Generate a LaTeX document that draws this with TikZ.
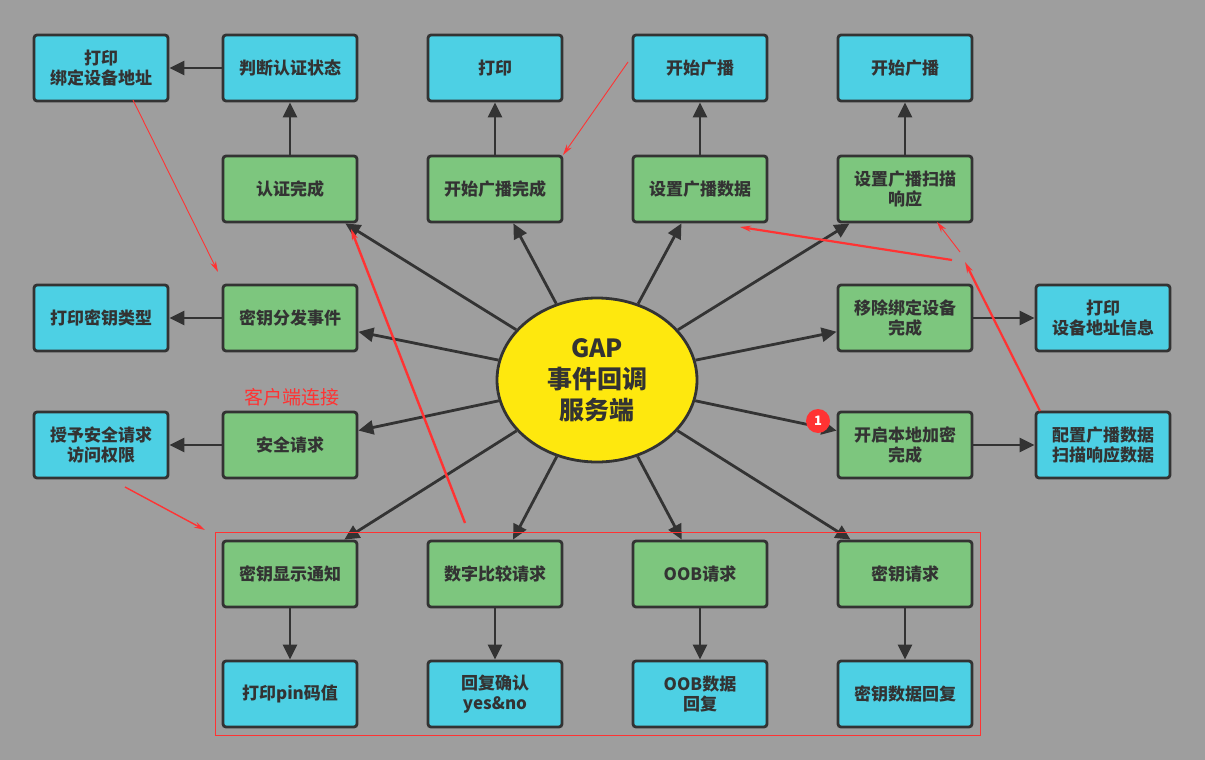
\documentclass[tikz,border=0pt]{standalone}
\usepackage{fontspec}
\setmainfont{Noto Sans CJK SC}
\usetikzlibrary{arrows.meta,shapes.geometric}
\definecolor{bg}{HTML}{9E9E9E}
\definecolor{gr}{HTML}{7DC67E}
\definecolor{cy}{HTML}{4DD0E4}
\definecolor{ln}{HTML}{333333}
\definecolor{rd}{HTML}{FF3333}
\begin{document}
\begin{tikzpicture}[x=1pt,y=-1pt,
 bx/.style={draw=ln,line width=2.8pt,rounded corners=3pt,minimum width=134pt,minimum height=66pt,align=center,font=\fontsize{17}{20}\selectfont\bfseries,text=ln},
 gbox/.style={bx,fill=gr},
 cbox/.style={bx,fill=cy},
 ar/.style={draw=ln,line width=2.8pt,-{Triangle[length=15pt,width=14pt]}},
 ra/.style={draw=rd,line width=0.9pt,-{Stealth[length=11pt,width=6pt]}}]
\useasboundingbox[fill=bg] (0,0) rectangle (1205,760);
\node[cbox] (p1) at (101,68) {打印\\绑定设备地址};
\node[cbox] (pd) at (290,68) {判断认证状态};
\node[cbox] (pr) at (495,68) {打印};
\node[cbox] (ka) at (700,68) {开始广播};
\node[cbox] (kb) at (905,68) {开始广播};
\node[gbox] (rz) at (290,189) {认证完成};
\node[gbox] (gbw) at (495,189) {开始广播完成};
\node[gbox] (szd) at (700,189) {设置广播数据};
\node[gbox] (szs) at (905,189) {设置广播扫描\\响应};
\node[cbox] (dmy) at (101,318) {打印密钥类型};
\node[gbox] (myf) at (290,318) {密钥分发事件};
\node[gbox] (ycb) at (905,318) {移除绑定设备\\完成};
\node[cbox] (dsb) at (1103,318) {打印\\设备地址信息};
\node[cbox] (sy) at (101,445) {授予安全请求\\访问权限};
\node[gbox] (aq) at (290,445) {安全请求};
\node[gbox] (kq) at (905,445) {开启本地加密\\完成};
\node[cbox] (pz) at (1103,445) {配置广播数据\\扫描响应数据};
\node[gbox] (xs) at (290,574) {密钥显示通知};
\node[gbox] (sz) at (495,574) {数字比较请求};
\node[gbox] (oob) at (700,574) {OOB请求};
\node[gbox] (mq) at (905,574) {密钥请求};
\node[cbox] (pin) at (290,694) {打印pin码值};
\node[cbox] (hf) at (495,694) {回复确认\\yes\&no};
\node[cbox] (od) at (700,694) {OOB数据\\回复};
\node[cbox] (mh) at (905,694) {密钥数据回复};
\node[ellipse,draw=ln,line width=2.8pt,fill=yellow!90!orange!95,minimum width=200pt,minimum height=164pt,align=center,font=\fontsize{25}{31}\selectfont\bfseries,text=ln] (e) at (597,380) {GAP\\事件回调\\服务端};
\foreach \n in {rz,gbw,szd,szs,myf,ycb,aq,kq,xs,sz,oob,mq} \draw[ar] (e) -- (\n);
\draw[ar] (pd) -- (p1); \draw[ar] (rz) -- (pd); \draw[ar] (gbw) -- (pr);
\draw[ar] (szd) -- (ka); \draw[ar] (szs) -- (kb); \draw[ar] (myf) -- (dmy);
\draw[ar] (ycb) -- (dsb); \draw[ar] (aq) -- (sy); \draw[ar] (kq) -- (pz);
\draw[ar] (xs) -- (pin); \draw[ar] (sz) -- (hf); \draw[ar] (oob) -- (od); \draw[ar] (mq) -- (mh);
% annotations
\draw[rd,line width=0.8pt] (215,532) rectangle (980,735);
\coordinate (r1a) at (133,100); \coordinate (r1b) at (218,272);
\coordinate (r2a) at (628,62); \coordinate (r2b) at (563,155);
\coordinate (r3a) at (465,523); \coordinate (r3b) at (351,229);
\coordinate (r4a) at (125,487); \coordinate (r4b) at (205,530);
\coordinate (r5a) at (952,260); \coordinate (r5b) at (740,227);
\coordinate (r6a) at (1040,411); \coordinate (r6b) at (965,262);
\coordinate (r7a) at (960,252); \coordinate (r7b) at (937,222);
\draw[ra] (r1a) -- (r1b); \draw[ra] (r2a) -- (r2b);
\draw[ra,line width=2.4pt] (r3a) -- (r3b); \draw[ra,line width=1.4pt] (r4a) -- (r4b);
\draw[ra,line width=2.2pt] (r5a) -- (r5b); \draw[ra,line width=2.2pt] (r6a) -- (r6b);
\draw[ra] (r7a) -- (r7b);
\node[text=rd,font=\fontsize{19}{22}\selectfont] (kh) at (292,397) {客户端连接};
\node[circle,fill=rd,minimum size=24pt,inner sep=0pt,text=white,font=\fontsize{13}{15}\selectfont\bfseries] (b1) at (818,421) {1};
\end{tikzpicture}
\end{document}
